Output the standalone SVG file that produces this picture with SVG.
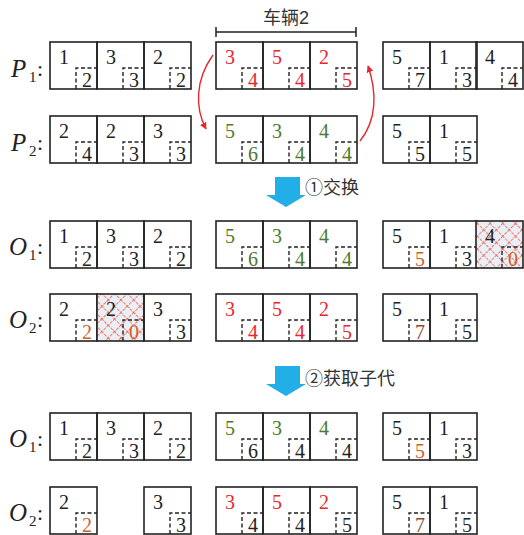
<svg xmlns="http://www.w3.org/2000/svg" xmlns:xlink="http://www.w3.org/1999/xlink" width="524" height="535" viewBox="0 0 524 535">
<style>
.box{fill:none;stroke:#222;stroke-width:1.6}
.dash{fill:none;stroke:#222;stroke-width:1.4;stroke-dasharray:4 2.5}
.n{font-family:"Liberation Serif","DejaVu Serif",serif;font-size:20px;fill:#222}
.b{text-anchor:middle}
.r{fill:#e8262e}
.g{fill:#4e7a2e}
.o{fill:#d2602a}
.br{fill:#8a4a2e}
.lab{font-family:"Liberation Serif","DejaVu Serif",serif;font-size:25px;font-style:italic;fill:#222}
.sub{font-family:"Liberation Serif","DejaVu Serif",serif;font-size:15px;fill:#222}
.col{font-family:"Liberation Serif","DejaVu Serif",serif;font-size:22px;fill:#222}
.cn{font-family:"Liberation Sans","Noto Sans CJK SC",sans-serif;font-size:18px;fill:#333}
.conn{fill:none;stroke:#e8262e;stroke-width:1.4}
.blue{fill:#22aee6}
</style>
<defs>
<g id="cell"><rect class="box" x="0" y="0" width="47" height="47"/><path class="dash" d="M26,47 V26 H47"/></g>
<pattern id="hatch" width="9" height="9" patternUnits="userSpaceOnUse" patternTransform="rotate(45)">
<rect width="9" height="9" fill="#eaeff7"/>
<path d="M0,0 H9 M0,0 V9" stroke="#ee5e3e" stroke-width="1.6" stroke-dasharray="3 1"/>
</pattern>
<marker id="ah" viewBox="0 0 10 10" refX="9" refY="5" markerWidth="7" markerHeight="7" orient="auto" markerUnits="userSpaceOnUse">
<path d="M0,0 L10,5 L0,10 z" fill="#e8262e"/>
</marker>
</defs>

<!-- row labels -->
<g id="labels">
<text class="lab" x="11" y="77">P</text><text class="sub" x="29" y="82">1</text><text class="col" x="37" y="76">:</text>
<text class="lab" x="11" y="151">P</text><text class="sub" x="29" y="156">2</text><text class="col" x="37" y="150">:</text>
<text class="lab" x="9" y="255">O</text><text class="sub" x="29" y="260">1</text><text class="col" x="37" y="254">:</text>
<text class="lab" x="9" y="328">O</text><text class="sub" x="29" y="333">2</text><text class="col" x="37" y="327">:</text>
<text class="lab" x="9" y="447">O</text><text class="sub" x="29" y="452">1</text><text class="col" x="37" y="446">:</text>
<text class="lab" x="9" y="521">O</text><text class="sub" x="29" y="526">2</text><text class="col" x="37" y="520">:</text>
</g>

<!-- bracket -->
<g id="bracket">
<path d="M216,32 H356 M216,27 V37 M356,27 V37" fill="none" stroke="#222" stroke-width="1.5"/>
<text class="cn" x="286" y="24" text-anchor="middle">车辆2</text>
</g>

<!-- Row P1 -->
<g id="p1-g1">
<use xlink:href="#cell" x="50" y="42"/><text class="n" x="59" y="64">1</text><text class="n b" x="87" y="87">2</text>
<use xlink:href="#cell" x="97" y="42"/><text class="n" x="106" y="64">3</text><text class="n b" x="134" y="87">3</text>
<use xlink:href="#cell" x="144" y="42"/><text class="n" x="153" y="64">2</text><text class="n b" x="181" y="87">2</text>
</g>
<g id="p1-g2">
<use xlink:href="#cell" x="216" y="42"/><text class="n r" x="225" y="64">3</text><text class="n b r" x="253" y="87">4</text>
<use xlink:href="#cell" x="263" y="42"/><text class="n r" x="272" y="64">5</text><text class="n b r" x="300" y="87">4</text>
<use xlink:href="#cell" x="310" y="42"/><text class="n r" x="319" y="64">2</text><text class="n b r" x="347" y="87">5</text>
</g>
<g id="p1-g3">
<use xlink:href="#cell" x="383" y="42"/><text class="n" x="392" y="64">5</text><text class="n b" x="420" y="87">7</text>
<use xlink:href="#cell" x="430" y="42"/><text class="n" x="439" y="64">1</text><text class="n b" x="467" y="87">3</text>
<use xlink:href="#cell" x="476" y="42"/><text class="n" x="485" y="64">4</text><text class="n b" x="513" y="87">4</text>
</g>

<!-- Row P2 -->
<g id="p2-g1">
<use xlink:href="#cell" x="50" y="116"/><text class="n" x="59" y="138">2</text><text class="n b" x="87" y="161">4</text>
<use xlink:href="#cell" x="97" y="116"/><text class="n" x="106" y="138">2</text><text class="n b" x="134" y="161">3</text>
<use xlink:href="#cell" x="144" y="116"/><text class="n" x="153" y="138">3</text><text class="n b" x="181" y="161">3</text>
</g>
<g id="p2-g2">
<use xlink:href="#cell" x="216" y="116"/><text class="n g" x="225" y="138">5</text><text class="n b g" x="253" y="161">6</text>
<use xlink:href="#cell" x="263" y="116"/><text class="n g" x="272" y="138">3</text><text class="n b g" x="300" y="161">4</text>
<use xlink:href="#cell" x="310" y="116"/><text class="n g" x="319" y="138">4</text><text class="n b g" x="347" y="161">4</text>
</g>
<g id="p2-g3">
<use xlink:href="#cell" x="383" y="116"/><text class="n" x="392" y="138">5</text><text class="n b" x="420" y="161">5</text>
<use xlink:href="#cell" x="430" y="116"/><text class="n" x="439" y="138">1</text><text class="n b" x="467" y="161">5</text>
</g>

<!-- connectors -->
<g id="connectors">
<path class="conn" d="M213,55 C195,80 195,108 206,129" marker-end="url(#ah)"/>
<path class="conn" d="M360,141 C377,120 377,92 368,66" marker-end="url(#ah)"/>
</g>

<!-- step 1 -->
<g id="step1">
<path class="blue" d="M275,177 H300 V195 H306 L286,207 L266,195 H275 z"/>
<text class="cn" x="305" y="194">①交换</text>
</g>

<!-- Row O1 -->
<g id="o1-g1">
<use xlink:href="#cell" x="50" y="221"/><text class="n" x="59" y="243">1</text><text class="n b" x="87" y="266">2</text>
<use xlink:href="#cell" x="97" y="221"/><text class="n" x="106" y="243">3</text><text class="n b" x="134" y="266">3</text>
<use xlink:href="#cell" x="144" y="221"/><text class="n" x="153" y="243">2</text><text class="n b" x="181" y="266">2</text>
</g>
<g id="o1-g2">
<use xlink:href="#cell" x="216" y="221"/><text class="n g" x="225" y="243">5</text><text class="n b g" x="253" y="266">6</text>
<use xlink:href="#cell" x="263" y="221"/><text class="n g" x="272" y="243">3</text><text class="n b g" x="300" y="266">4</text>
<use xlink:href="#cell" x="310" y="221"/><text class="n g" x="319" y="243">4</text><text class="n b g" x="347" y="266">4</text>
</g>
<g id="o1-g3">
<use xlink:href="#cell" x="383" y="221"/><text class="n" x="392" y="243">5</text><text class="n b o" x="420" y="266">5</text>
<use xlink:href="#cell" x="430" y="221"/><text class="n" x="439" y="243">1</text><text class="n b" x="467" y="266">3</text>
<rect x="476" y="221" width="47" height="47" fill="url(#hatch)"/>
<use xlink:href="#cell" x="476" y="221"/><text class="n" x="485" y="243">4</text><text class="n b o" x="513" y="266">0</text>
</g>

<!-- Row O2 -->
<g id="o2-g1">
<use xlink:href="#cell" x="50" y="294"/><text class="n" x="59" y="316">2</text><text class="n b o" x="87" y="339">2</text>
<rect x="97" y="294" width="47" height="47" fill="url(#hatch)"/>
<use xlink:href="#cell" x="97" y="294"/><text class="n" x="106" y="316">2</text><text class="n b o" x="134" y="339">0</text>
<use xlink:href="#cell" x="144" y="294"/><text class="n" x="153" y="316">3</text><text class="n b" x="181" y="339">3</text>
</g>
<g id="o2-g2">
<use xlink:href="#cell" x="216" y="294"/><text class="n r" x="225" y="316">3</text><text class="n b r" x="253" y="339">4</text>
<use xlink:href="#cell" x="263" y="294"/><text class="n r" x="272" y="316">5</text><text class="n b r" x="300" y="339">4</text>
<use xlink:href="#cell" x="310" y="294"/><text class="n r" x="319" y="316">2</text><text class="n b r" x="347" y="339">5</text>
</g>
<g id="o2-g3">
<use xlink:href="#cell" x="383" y="294"/><text class="n" x="392" y="316">5</text><text class="n b br" x="420" y="339">7</text>
<use xlink:href="#cell" x="430" y="294"/><text class="n" x="439" y="316">1</text><text class="n b" x="467" y="339">5</text>
</g>

<!-- step 2 -->
<g id="step2">
<path class="blue" d="M275,366 H300 V384 H306 L286,396 L266,384 H275 z"/>
<text class="cn" x="305" y="385">②获取子代</text>
</g>

<!-- Row O1 final -->
<g id="f1-g1">
<use xlink:href="#cell" x="50" y="413"/><text class="n" x="59" y="435">1</text><text class="n b" x="87" y="458">2</text>
<use xlink:href="#cell" x="97" y="413"/><text class="n" x="106" y="435">3</text><text class="n b" x="134" y="458">3</text>
<use xlink:href="#cell" x="144" y="413"/><text class="n" x="153" y="435">2</text><text class="n b" x="181" y="458">2</text>
</g>
<g id="f1-g2">
<use xlink:href="#cell" x="216" y="413"/><text class="n g" x="225" y="435">5</text><text class="n b" x="253" y="458">6</text>
<use xlink:href="#cell" x="263" y="413"/><text class="n g" x="272" y="435">3</text><text class="n b" x="300" y="458">4</text>
<use xlink:href="#cell" x="310" y="413"/><text class="n g" x="319" y="435">4</text><text class="n b" x="347" y="458">4</text>
</g>
<g id="f1-g3">
<use xlink:href="#cell" x="383" y="413"/><text class="n" x="392" y="435">5</text><text class="n b o" x="420" y="458">5</text>
<use xlink:href="#cell" x="430" y="413"/><text class="n" x="439" y="435">1</text><text class="n b" x="467" y="458">3</text>
</g>

<!-- Row O2 final -->
<g id="f2-g1">
<use xlink:href="#cell" x="50" y="487"/><text class="n" x="59" y="509">2</text><text class="n b o" x="87" y="532">2</text>
<use xlink:href="#cell" x="144" y="487"/><text class="n" x="153" y="509">3</text><text class="n b" x="181" y="532">3</text>
</g>
<g id="f2-g2">
<use xlink:href="#cell" x="216" y="487"/><text class="n r" x="225" y="509">3</text><text class="n b" x="253" y="532">4</text>
<use xlink:href="#cell" x="263" y="487"/><text class="n r" x="272" y="509">5</text><text class="n b" x="300" y="532">4</text>
<use xlink:href="#cell" x="310" y="487"/><text class="n r" x="319" y="509">2</text><text class="n b" x="347" y="532">5</text>
</g>
<g id="f2-g3">
<use xlink:href="#cell" x="383" y="487"/><text class="n" x="392" y="509">5</text><text class="n b br" x="420" y="532">7</text>
<use xlink:href="#cell" x="430" y="487"/><text class="n" x="439" y="509">1</text><text class="n b" x="467" y="532">5</text>
</g>
</svg>
